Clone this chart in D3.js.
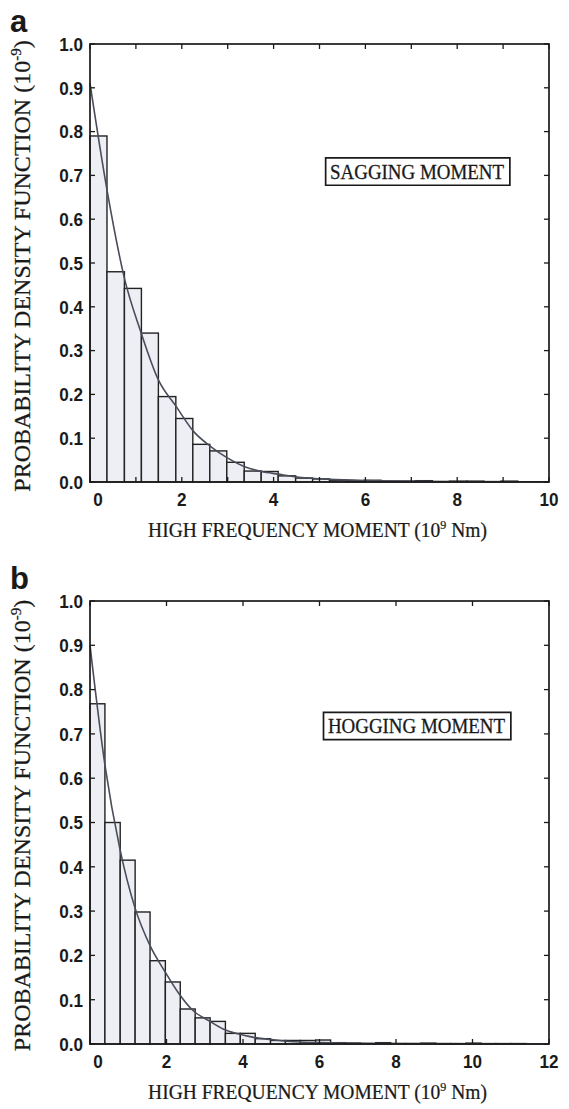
<!DOCTYPE html>
<html>
<head>
<meta charset="utf-8">
<script src="https://cdn.jsdelivr.net/npm/d3@7"></script>
<style>
  html, body { margin: 0; padding: 0; background: #ffffff; }
  svg { display: block; }
</style>
</head>
<body>
<svg id="chart" width="569" height="1109"></svg>
<script>
// ---------------- DATA ----------------
// Panel a : sagging moment histogram
const sagBinEdges = [0, 0.37, 0.75, 1.12, 1.49, 1.87, 2.24, 2.61, 2.98, 3.36, 3.73, 4.10, 4.48,
  4.85, 5.22, 5.60, 5.97, 6.34, 6.71, 7.09, 7.46, 7.83, 8.21, 8.58, 8.95, 9.32];
const sagHeights = [0.79, 0.48, 0.442, 0.34, 0.195, 0.145, 0.086, 0.071, 0.045, 0.025, 0.024, 0.014,
  0.009, 0.007, 0.004, 0.003, 0.004, 0.002, 0.002, 0.003, 0.001, 0.002, 0.002, 0.001, 0.002];
const sagCurveX = [0, 0.37, 0.76, 1.10, 1.49, 1.88, 2.26, 2.63, 3.01, 3.37, 3.74, 4.10, 4.47, 5.2, 6.25, 7.5, 8.8, 10];
const sagCurveY = [0.91, 0.667, 0.461, 0.345, 0.233, 0.172, 0.115, 0.081, 0.054, 0.035, 0.024, 0.018, 0.012, 0.006, 0.003, 0.001, 0.0005, 0.0002];

// Panel b : hogging moment histogram
const hogBinEdges = [0, 0.39, 0.79, 1.18, 1.57, 1.97, 2.36, 2.75, 3.14, 3.54, 3.93, 4.32, 4.72, 5.11,
  5.50, 5.90, 6.29, 6.68, 7.07, 7.47, 7.86, 8.25, 8.65, 9.04, 9.43, 9.83, 10.22, 10.61, 11.00, 11.40];
const hogHeights = [0.768, 0.50, 0.415, 0.298, 0.188, 0.14, 0.079, 0.059, 0.051, 0.024, 0.024, 0.012,
  0.008, 0.008, 0.008, 0.009, 0.003, 0.002, 0.001, 0.003, 0.001, 0.001, 0.002, 0.001, 0.001, 0.002, 0.001, 0.001, 0.001];
const hogCurveX = [0, 0.39, 0.78, 1.17, 1.57, 1.97, 2.30, 2.70, 3.10, 3.48, 3.86, 4.28, 5.0, 6.0, 8.0, 10, 12];
const hogCurveY = [0.90, 0.63, 0.441, 0.309, 0.222, 0.162, 0.117, 0.075, 0.053, 0.034, 0.023, 0.015, 0.0075, 0.003, 0.001, 0.0003, 0.0001];

// Axis ticks
const yTicks = [0.0, 0.1, 0.2, 0.3, 0.4, 0.5, 0.6, 0.7, 0.8, 0.9, 1.0];
const sagXTicks = [0, 1, 2, 3, 4, 5, 6, 7, 8, 9, 10];
const sagXLabels = [0, 2, 4, 6, 8, 10];
const hogXTicks = [0, 2, 4, 6, 8, 10, 12];
const hogXLabels = [0, 2, 4, 6, 8, 10, 12];

const panelLetters = ["a", "b"];
const legendTexts = ["SAGGING MOMENT", "HOGGING MOMENT"];
const xTitleMain = "HIGH FREQUENCY MOMENT (10";
const xTitleSup = "9";
const xTitleEnd = " Nm)";
const yTitleMain = "PROBABILITY DENSITY FUNCTION (10";
const yTitleSup = "-9";
const yTitleEnd = ")";

// ---------------- DRAWING ----------------
const svg = d3.select("#chart");
const SERIF = "'Liberation Serif', 'Times New Roman', serif";
const SANS = "'Liberation Sans', Arial, sans-serif";
const INK = "#1a1a1a";
const SX = 0.9; // horizontal squeeze of the reference lettering

function squeezed(parent, x, y, sx) {
  return parent.append("g").attr("transform", `translate(${x},${y}) scale(${sx},1)`);
}

function panel(cfg) {
  const x = d3.scaleLinear().domain([0, cfg.xMax]).range([cfg.left, cfg.right]);
  const y = d3.scaleLinear().domain([0, 1]).range([cfg.bottom, cfg.top]);
  const g = svg.append("g");

  // bars
  const bins = cfg.heights.map((h, i) => ({ x0: cfg.edges[i], x1: cfg.edges[i + 1], h }));
  g.append("g").selectAll("rect").data(bins).join("rect")
    .attr("x", d => x(d.x0))
    .attr("y", d => y(d.h))
    .attr("width", d => x(d.x1) - x(d.x0))
    .attr("height", d => y(0) - y(d.h))
    .attr("fill", "#eeeef5")
    .attr("stroke", "#222")
    .attr("stroke-width", 1.4);

  // fitted curve
  const pts = cfg.cx.map((v, i) => [v, cfg.cy[i]]);
  g.append("path")
    .datum(pts)
    .attr("fill", "none")
    .attr("stroke", "#4a4d5a")
    .attr("stroke-width", 1.6)
    .attr("d", d3.line().x(d => x(d[0])).y(d => y(d[1])).curve(d3.curveMonotoneX));

  // frame
  g.append("rect")
    .attr("x", cfg.left).attr("y", cfg.top)
    .attr("width", cfg.right - cfg.left).attr("height", cfg.bottom - cfg.top)
    .attr("fill", "none").attr("stroke", INK).attr("stroke-width", 1.7);

  const tl = 5;
  const tk = g.append("g").attr("stroke", INK).attr("stroke-width", 1.3);
  cfg.xTicks.forEach(t => {
    tk.append("line").attr("x1", x(t)).attr("x2", x(t)).attr("y1", cfg.bottom).attr("y2", cfg.bottom - tl);
    tk.append("line").attr("x1", x(t)).attr("x2", x(t)).attr("y1", cfg.top).attr("y2", cfg.top + tl);
  });
  yTicks.forEach(t => {
    tk.append("line").attr("x1", cfg.left).attr("x2", cfg.left + tl).attr("y1", y(t)).attr("y2", y(t));
    tk.append("line").attr("x1", cfg.right).attr("x2", cfg.right - tl).attr("y1", y(t)).attr("y2", y(t));
  });

  // y tick labels
  yTicks.forEach(t => {
    squeezed(g, cfg.left - 7, y(t), SX).append("text")
      .attr("dy", "0.36em")
      .attr("text-anchor", "end")
      .attr("font-family", SANS).attr("font-weight", "bold").attr("font-size", 19)
      .attr("fill", INK)
      .text(d3.format(".1f")(t));
  });

  // x tick labels
  cfg.xLabels.forEach(t => {
    squeezed(g, x(t) + (t === 0 ? 8 : 0), cfg.bottom + 24, SX).append("text")
      .attr("text-anchor", "middle")
      .attr("font-family", SANS).attr("font-weight", "bold").attr("font-size", 19)
      .attr("fill", INK)
      .text(t);
  });

  // x title
  const xtT = squeezed(g, (cfg.left + cfg.right) / 2 - 2, cfg.bottom + 55, 0.93).append("text")
    .attr("text-anchor", "middle")
    .attr("font-family", SERIF).attr("font-size", 21).attr("fill", INK)
    .attr("stroke", INK).attr("stroke-width", 0.25);
  xtT.append("tspan").text(xTitleMain);
  xtT.append("tspan").attr("dy", -8).attr("font-size", 13).text(xTitleSup);
  xtT.append("tspan").attr("dy", 8).text(xTitleEnd);

  // y title (rotated)
  const cy = (cfg.top + cfg.bottom) / 2 + 3;
  const ytT = g.append("text")
    .attr("transform", `translate(${cfg.yTitleX},${cy}) rotate(-90)`)
    .attr("text-anchor", "middle")
    .attr("font-family", SERIF).attr("font-size", 24).attr("fill", INK)
    .attr("stroke", INK).attr("stroke-width", 0.25);
  ytT.append("tspan").text(yTitleMain);
  ytT.append("tspan").attr("dy", -9).attr("font-size", 15).text(yTitleSup);
  ytT.append("tspan").attr("dy", 9).text(yTitleEnd);

  // panel letter
  g.append("text")
    .attr("x", 10).attr("y", cfg.top - 12)
    .attr("font-family", SANS).attr("font-weight", "bold").attr("font-size", 31)
    .attr("fill", INK)
    .text(cfg.letter);

  // legend box
  const lg = squeezed(g, cfg.legendRight - 6, y(cfg.legendY), 0.88);
  const lt = lg.append("text")
    .attr("text-anchor", "end")
    .attr("dy", "0.33em")
    .attr("font-family", SERIF).attr("font-size", 21.5).attr("fill", INK)
    .attr("stroke", INK).attr("stroke-width", 0.3)
    .text(cfg.legend);
  const bb = lt.node().getBBox();
  lg.insert("rect", "text")
    .attr("x", bb.x - 5).attr("y", bb.y - 2)
    .attr("width", bb.width + 11).attr("height", bb.height + 4)
    .attr("fill", "#ffffff").attr("stroke", INK).attr("stroke-width", 1.7)
    .attr("vector-effect", "non-scaling-stroke");
}

panel({
  left: 90, right: 549, top: 44, bottom: 482, xMax: 10,
  edges: sagBinEdges, heights: sagHeights, cx: sagCurveX, cy: sagCurveY,
  xTicks: sagXTicks, xLabels: sagXLabels, yTitleX: 30,
  letter: panelLetters[0], legend: legendTexts[0], legendRight: 510, legendY: 0.708
});

panel({
  left: 90, right: 549, top: 601, bottom: 1044, xMax: 12,
  edges: hogBinEdges, heights: hogHeights, cx: hogCurveX, cy: hogCurveY,
  xTicks: hogXTicks, xLabels: hogXLabels, yTitleX: 30,
  letter: panelLetters[1], legend: legendTexts[1], legendRight: 511, legendY: 0.717
});
</script>
</body>
</html>
